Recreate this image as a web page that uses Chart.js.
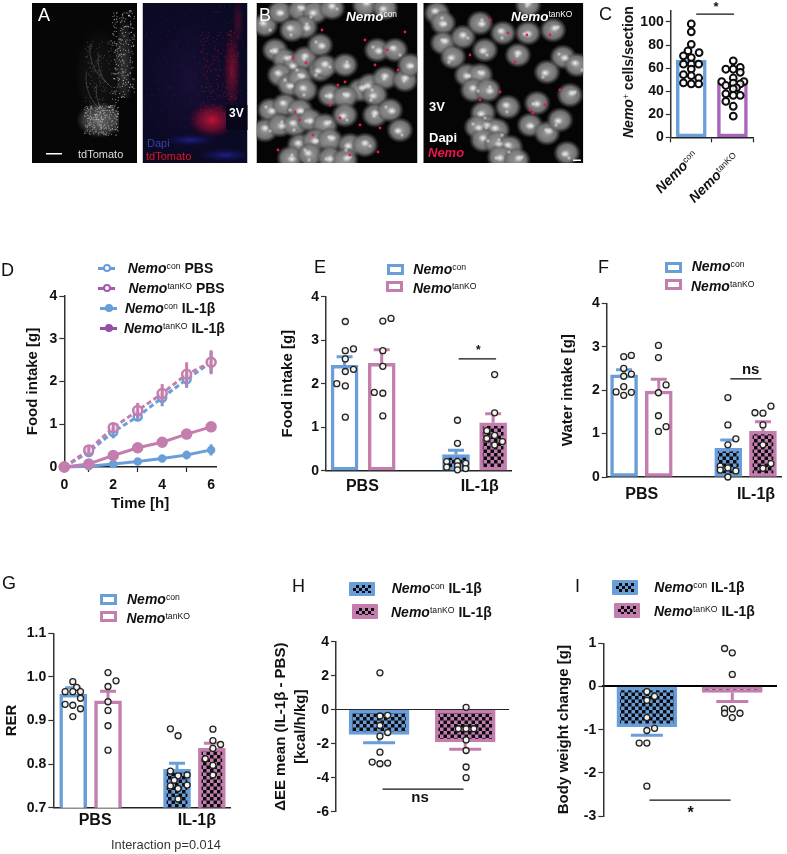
<!DOCTYPE html>
<html>
<head>
<meta charset="utf-8">
<script src="https://cdn.jsdelivr.net/npm/chart.js@4"></script>
<style>
    html, body { margin: 0; padding: 0; background: #fff; }
    #page { position: relative; width: 787px; height: 854px; overflow: hidden; font-family: "Liberation Sans", Arial, sans-serif; color: #111; }
    canvas { position: absolute; }
    .t { position: absolute; white-space: nowrap; line-height: 1; transform: translateY(-50%); }
    .t sup { font-size: 0.62em; font-weight: normal; font-style: normal; vertical-align: baseline; position: relative; top: -0.45em; }
    .t i { font-weight: bold; }
    .letter { font-size: 18px; }
    .leg { font-size: 14px; font-weight: bold; }
    .box { position: absolute; box-sizing: border-box; }
    .check { position: absolute; left: 6%; right: 6%; top: 4%; bottom: 4%; background: repeating-conic-gradient(#0c0c10 0 25%, transparent 0 50%) 0 0 / 6px 6px; }
</style>
</head>
<body>
<div id="page"></div>
<script>
// Panel C
const cBars = [67, 47];
const cConDots = [[0,98.3],[0,91.4],[0,80.6],[-0.08,74.9],[0.19,73.4],[-0.19,70.6],[0,69.1],[-0.19,63.4],[0,63.4],[0.18,63.4],[0,59.1],[-0.19,54.3],[0,53.4],[0.18,51.4],[-0.19,47.1],[0,46.3],[0.18,46.3]];
const cKoDots = [[1.02,66.3],[0.84,59],[1.19,60.6],[1.19,56.3],[1.02,59],[1.02,51.4],[0.74,48.3],[1.28,48.3],[0.84,44.9],[1.02,46.9],[1.19,46.3],[1.1,42.9],[0.84,37.7],[1.02,42],[1.02,36.3],[1.19,36.3],[0.84,31.1],[1.02,26.9],[1.02,18.3]];

// Panel D
const hours = [0, 1, 2, 3, 4, 5, 6];
const dConPbs = [0, 0.35, 0.82, 1.18, 1.62, 2.05, 2.45];
const dKoPbs = [0, 0.4, 0.92, 1.32, 1.72, 2.17, 2.45];
const dConIl = [0, 0.02, 0.07, 0.13, 0.2, 0.28, 0.4];
const dKoIl = [0, 0.07, 0.27, 0.45, 0.58, 0.77, 0.94];
const dConPbsErr = [0, 0.08, 0.15, 0.1, 0.2, 0.2, 0.25];
const dKoPbsErr = [0, 0.08, 0.12, 0.18, 0.22, 0.28, 0.28];
const dConIlErr = [0, 0.01, 0.03, 0.04, 0.04, 0.1, 0.13];
const dKoIlErr = [0, 0.03, 0.05, 0.06, 0.05, 0.08, 0.08];

// Panel E
const eBars = [2.42, 2.47, 0.37, 1.1];
const eErr = [0.2, 0.31, 0.1, 0.21];
const eDots = [[0.52,3.43],[0.52,2.76],[0.74,2.8],[0.52,2.57],[0.74,2.33],[0.52,2.28],[0.29,2],[0.52,1.95],[0.52,1.23],
    [1.53,3.44],[1.75,3.5],[1.53,2.76],[1.53,2.4],[1.3,1.8],[1.53,1.78],[1.53,1.26],
    [3.54,1.16],[3.54,0.63],[3.25,0.21],[3.54,0.21],[3.76,0.17],[3.25,0.08],[3.54,0.11],[3.76,0.05],[3.54,0.02],
    [4.54,2.21],[4.54,1.33],[4.33,0.92],[4.54,0.81],[4.33,0.74],[4.75,0.67],[4.54,0.59]];
const eSig = [[3.57,2.57],[4.58,2.57]];

// Panel F
const fBars = [2.35, 1.98, 0.66, 1.06];
const fErr = [0.12, 0.27, 0.19, 0.21];
const fDots = [[0.49,2.77],[0.71,2.8],[0.49,2.5],[0.49,2.32],[0.71,2.37],[0.49,2.08],[0.27,1.96],[0.49,1.88],[0.71,1.95],
    [1.49,3.03],[1.49,2.75],[1.71,2.12],[1.49,1.94],[1.49,1.41],[1.71,1.16],[1.49,1.05],
    [3.49,1.83],[3.49,1.2],[3.72,0.88],[3.49,0.74],[3.27,0.25],[3.27,0.16],[3.49,0.21],[3.72,0.14],[3.49,0],
    [4.27,1.48],[4.5,1.47],[4.73,1.63],[4.5,1.2],[4.5,0.74],[4.73,0.31],[4.5,0.2]];
const fSig = [[3.56,2.26],[4.46,2.26]];

// Panel G
const gBars = [0.96, 0.945, 0.788, 0.836];
const gErr = [0.015, 0.022, 0.014, 0.012];
const gDots = [[0.49,0.989],[0.6,0.976],[0.27,0.966],[0.49,0.966],[0.71,0.966],[0.71,0.951],[0.27,0.937],[0.49,0.935],[0.71,0.927],[0.49,0.909],
    [1.5,1.01],[1.73,0.991],[1.5,0.978],[1.5,0.943],[1.5,0.923],[1.5,0.888],[1.5,0.832],
    [3.29,0.881],[3.51,0.865],[3.29,0.784],[3.51,0.773],[3.77,0.775],[3.4,0.763],[3.29,0.75],[3.77,0.752],[3.51,0.744],[3.51,0.72],
    [4.51,0.88],[4.51,0.854],[4.73,0.845],[4.51,0.836],[4.29,0.812],[4.51,0.797],[4.51,0.775]];

// Panel H
const hBars = [-1.45, -1.9];
const hErr = [0.5, 0.43];
const hDots = [[1.01,2.17],[1.01,-0.37],[1.1,-0.33],[1.01,-0.93],[1.1,-1.34],[1.01,-1.56],[1.01,-2.5],[0.92,-3.08],[1.01,-3.18],[1.1,-3.14],
    [2.01,0.14],[1.92,-1.12],[2.01,-1.12],[2.1,-1.12],[2.01,-1.78],[2.01,-2.4],[2.01,-3.37],[2.01,-4]];
const hSig = [[1.04,-4.67],[1.98,-4.67]];

// Panel I
const iBars = [-0.93, -0.14];
const iErr = [0.2, 0.21];
const iDots = [[1,-0.12],[1.09,-0.23],[1,-0.32],[1,-0.72],[1.09,-0.97],[1,-1.02],[0.91,-1.31],[1,-1.31],[1,-2.31],
    [1.91,0.88],[2,0.78],[2,0.28],[1.91,-0.52],[2,-0.52],[1.91,-0.62],[2.09,-0.62],[2,-0.72]];
const iSig = [[1.03,-2.63],[1.98,-2.63]];

// Micrograph cell positions (only a rough sketch of the photos)
const cellsB1 = [[265,25],[280,12],[300,10],[315,12],[332,8],[305,27],[292,30],[275,50],[285,60],[295,65],[305,58],[320,45],[280,75],[290,85],[300,78],[320,70],[325,66],[345,65],[305,90],[330,95],[360,90],[370,85],[385,78],[270,110],[285,105],[300,110],[345,97],[375,95],[265,130],[280,125],[295,125],[310,120],[325,125],[345,115],[375,115],[390,110],[300,145],[315,140],[330,140],[350,145],[365,145],[290,158],[310,155],[330,158],[345,160],[400,130],[405,80],[377,50],[395,50],[410,65],[365,5],[385,8]];
const cellsB2 = [[437,13],[443,23],[443,43],[453,57],[463,37],[480,23],[503,33],[528,33],[553,30],[485,50],[518,55],[563,57],[577,65],[467,75],[480,75],[547,72],[473,90],[488,90],[508,107],[537,103],[570,95],[483,113],[487,127],[477,127],[497,130],[530,125],[547,133],[560,120],[483,140],[497,143],[510,147],[500,157],[517,160],[567,153],[528,5]];
const specksB1 = [[293,58],[306,63],[322,30],[345,82],[338,85],[365,40],[398,70],[387,50],[405,32],[295,112],[340,118],[360,125],[380,128],[278,150],[350,155],[378,152],[300,120],[313,135],[330,105],[375,65]];
const specksB2 = [[490,20],[508,33],[527,35],[550,35],[515,62],[480,100],[530,110],[533,113],[545,105],[500,92],[560,90],[470,55]];

const BLUE = '#6a9ed8', PINK = '#c47eae', PURPLE = '#a865bb', INK = '#111';

function checker(color) {
    const tile = document.createElement('canvas');
    tile.width = tile.height = 7;
    const t = tile.getContext('2d');
    t.fillStyle = color;
    t.fillRect(0, 0, 7, 7);
    t.fillStyle = '#0c0c10';
    t.fillRect(0, 0, 3.5, 3.5);
    t.fillRect(3.5, 3.5, 3.5, 3.5);
    return t.createPattern(tile, 'repeat');
}

const page = document.getElementById('page');

function label(x, y, html, cls, style) {
    const el = document.createElement('div');
    el.className = 't ' + (cls || '');
    el.style.left = x + 'px';
    el.style.top = y + 'px';
    el.innerHTML = html;
    if (style) el.style.cssText += style;
    page.appendChild(el);
    return el;
}

function swatch(x, y, w, h, color, filled) {
    const el = document.createElement('div');
    el.className = 'box';
    el.style.cssText = `left:${x}px;top:${y}px;width:${w}px;height:${h}px;border:3px solid ${color};` + (filled ? `background:${color};border-radius:1px;` : '');
    if (filled) el.innerHTML = '<div class="check"></div>';
    page.appendChild(el);
}

function lineKey(x, y, w, color, open, dashed) {
    const el = document.createElement('div');
    el.className = 'box';
    el.style.cssText = `left:${x}px;top:${y - 1.5}px;width:${w}px;height:0;border-top:3px ${dashed ? 'dashed' : 'solid'} ${color};`;
    page.appendChild(el);
    const dot = document.createElement('div');
    dot.className = 'box';
    dot.style.cssText = `left:${x + w / 2 - 4}px;top:${y - 4}px;width:8px;height:8px;border-radius:50%;border:2px solid ${color};background:${open ? '#fff' : color};`;
    page.appendChild(dot);
}

// error whiskers, called for each dataset that carries an `errors` array
const errorBars = {
    id: 'errorBars',
    afterDatasetDraw(chart, args) {
        const ds = chart.data.datasets[args.index];
        if (!ds.errors) return;
        const yScale = chart.scales.y;
        const meta = chart.getDatasetMeta(args.index);
        const ctx = chart.ctx;
        ctx.save();
        ctx.strokeStyle = ds.errorColor || ds.borderColor;
        ctx.lineWidth = ds.errorWidth || 3;
        meta.data.forEach((el, i) => {
            const color = Array.isArray(ds.borderColor) ? ds.borderColor[i] : ctx.strokeStyle;
            ctx.strokeStyle = color;
            const v = meta._parsed[i].y, e = ds.errors[i];
            if (!e) return;
            const a = ds.bothWays ? v - e : v;
            const b = v < 0 ? v - e : v + e;
            const y1 = yScale.getPixelForValue(a), y2 = yScale.getPixelForValue(b);
            ctx.beginPath();
            ctx.moveTo(el.x, y1);
            ctx.lineTo(el.x, y2);
            if (ds.capWidth) {
                ctx.moveTo(el.x - ds.capWidth / 2, y2);
                ctx.lineTo(el.x + ds.capWidth / 2, y2);
            }
            ctx.stroke();
        });
        ctx.restore();
    }
};

// one chart per panel; plot is the plot area in page pixels
function panel(frame, plot, yW, xH, opts) {
    const c = document.createElement('canvas');
    c.width = frame.w;
    c.height = frame.h;
    c.style.left = frame.x + 'px';
    c.style.top = frame.y + 'px';
    page.appendChild(c);
    const xOpts = opts.x;
    const yOpts = opts.y;
    return new Chart(c, {
        type: 'bar',
        data: { datasets: opts.datasets },
        plugins: [errorBars],
        options: {
            responsive: false,
            animation: false,
            layout: { padding: {
                left: plot.l - frame.x - yW,
                right: frame.x + frame.w - plot.r,
                top: plot.t - frame.y,
                bottom: frame.y + frame.h - plot.b - xH
            } },
            plugins: { legend: { display: false }, tooltip: { enabled: false } },
            scales: {
                x: {
                    type: 'linear',
                    offset: false,
                    min: xOpts.min,
                    max: xOpts.max,
                    position: xOpts.zeroLine ? { y: 0 } : 'bottom',
                    afterFit: s => { s.height = xH; },
                    afterBuildTicks: s => { s.ticks = (xOpts.tickAt || []).map(v => ({ value: v })); },
                    border: { color: xOpts.lineColor || '#222', width: xOpts.lineWidth || 1.5 },
                    grid: { drawOnChartArea: false, drawTicks: !!xOpts.tickMarks, tickLength: 5, tickColor: '#222', tickWidth: 1.2 },
                    ticks: {
                        display: !!xOpts.labels,
                        autoSkip: false,
                        maxRotation: 0,
                        padding: xOpts.pad === undefined ? 2 : xOpts.pad,
                        color: '#111',
                        font: { family: 'Liberation Sans', weight: 'bold', size: xOpts.size || 16 },
                        callback: (v, i) => xOpts.labels ? xOpts.labels[i] : ''
                    },
                    title: xOpts.title ? { display: true, text: xOpts.title, color: '#111', padding: 0, font: { family: 'Liberation Sans', weight: 'bold', size: 15, lineHeight: 1.2 } } : { display: false }
                },
                y: {
                    min: yOpts.min,
                    max: yOpts.max,
                    afterFit: s => { s.width = yW; },
                    border: { color: '#333', width: 1.5 },
                    grid: { drawOnChartArea: false, tickLength: 5, tickColor: '#333', tickWidth: 1.2 },
                    ticks: {
                        stepSize: yOpts.step,
                        includeBounds: false,
                        padding: 2,
                        color: '#111',
                        font: { family: 'Liberation Sans', weight: 'bold', size: 14 },
                        callback: yOpts.fmt || (v => String(v))
                    },
                    title: yOpts.title ? { display: true, text: yOpts.title, color: '#111', padding: 0, font: { family: 'Liberation Sans', weight: 'bold', size: 15, lineHeight: yOpts.titleLine || 1.2 } } : { display: false }
                }
            }
        }
    });
}

function toPoints(pairs) {
    return pairs.map(p => ({ x: p[0], y: p[1] }));
}

function dotSet(pairs, dark) {
    return {
        type: 'scatter',
        data: toPoints(pairs),
        clip: false,
        pointRadius: dark ? 3.4 : 3,
        pointBorderWidth: dark ? 2 : 1.3,
        pointBorderColor: dark ? '#0c0c0c' : '#222',
        pointBackgroundColor: dark ? 'rgba(255,255,255,0.85)' : '#f3f3ec'
    };
}

function barSet(slots, values, errors, fills, edges, thickness, capWidth) {
    return {
        type: 'bar',
        data: values.map((v, i) => ({ x: slots[i], y: v })),
        errors: errors,
        capWidth: capWidth,
        errorWidth: 3,
        grouped: false,
        barThickness: thickness,
        backgroundColor: fills,
        borderColor: edges,
        borderWidth: 3.5,
        borderSkipped: false
    };
}

function sigSet(pairs, width) {
    return {
        type: 'line',
        data: toPoints(pairs),
        clip: false,
        borderColor: '#111',
        borderWidth: width || 1.3,
        pointRadius: 0
    };
}

function curve(values, errors, color, dashed, open, radius) {
    return {
        type: 'line',
        data: values.map((v, i) => ({ x: hours[i], y: v })),
        clip: false,
        errors: errors,
        bothWays: true,
        errorColor: color,
        errorWidth: 3,
        borderColor: color,
        borderWidth: 3,
        borderDash: dashed ? [5, 3] : [],
        pointRadius: radius,
        pointBorderWidth: 2.5,
        pointBorderColor: color,
        pointBackgroundColor: open ? 'rgba(255,255,255,0.7)' : color
    };
}

const bluePat = checker(BLUE), pinkPat = checker(PINK);
const slots = [0.5, 1.5, 3.5, 4.5];
const fills4 = ['#fff', '#fff', bluePat, pinkPat];
const edges4 = [BLUE, PINK, BLUE, PINK];

// C
panel({ x: 600, y: 0, w: 187, h: 210 }, { l: 670.7, t: 9, r: 753, b: 137.3 }, 45, 12, {
    x: { min: -0.5, max: 1.5, tickAt: [0, 1], tickMarks: true },
    y: { min: 0, max: 110, step: 20 },
    datasets: [dotSet(cConDots, true), dotSet(cKoDots, true),
        sigSet([[0.12, 106.8], [1.04, 106.8]]),
        barSet([0, 1], cBars, null, ['#fff', '#fff'], [BLUE, PURPLE], 30)]
});

// D
panel({ x: 0, y: 250, w: 260, h: 270 }, { l: 64.3, t: 296, r: 216, b: 467 }, 40, 46, {
    x: { min: 0, max: 6.2, tickAt: [0, 2, 4, 6], tickMarks: true, labels: ['0', '2', '4', '6'], size: 14, title: 'Time [h]', pad: 5 },
    y: { min: 0, max: 4, step: 1, title: 'Food intake [g]' },
    datasets: [curve(dKoIl, dKoIlErr, PINK, false, false, 4.5), curve(dKoPbs, dKoPbsErr, PINK, true, true, 4.5),
        curve(dConPbs, dConPbsErr, BLUE, true, true, 4), curve(dConIl, dConIlErr, BLUE, false, false, 3)]
});

// E
panel({ x: 270, y: 250, w: 260, h: 270 }, { l: 326, t: 296.7, r: 511.7, b: 470.7 }, 47, 30, {
    x: { min: 0, max: 5, tickAt: [0.98, 4.14], labels: ['PBS', 'IL-1β'], pad: 6 },
    y: { min: 0, max: 4, step: 1, title: 'Food intake [g]' },
    datasets: [dotSet(eDots), sigSet(eSig), barSet(slots, eBars, eErr, fills4, edges4, 27, 16)]
});

// F
panel({ x: 530, y: 250, w: 257, h: 270 }, { l: 606.7, t: 303.3, r: 786.7, b: 477 }, 48, 30, {
    x: { min: 0, max: 5.04, tickAt: [1.01, 4.3], labels: ['PBS', 'IL-1β'], pad: 8 },
    y: { min: 0, max: 4, step: 1, title: 'Water intake [g]' },
    datasets: [dotSet(fDots), sigSet(fSig), barSet(slots, fBars, fErr, fills4, edges4, 27, 16)]
});

// G
panel({ x: 0, y: 580, w: 260, h: 274 }, { l: 53.3, t: 633.3, r: 230, b: 807.7 }, 50, 30, {
    x: { min: -0.07, max: 5, tickAt: [1.13, 4.05], labels: ['PBS', 'IL-1β'], pad: 3 },
    y: { min: 0.7, max: 1.1, step: 0.1, title: 'RER', fmt: v => v.toFixed(1) },
    datasets: [dotSet(gDots), barSet([0.5, 1.5, 3.48, 4.48], gBars, gErr, fills4, edges4, 27, 16)]
});

// H
panel({ x: 265, y: 570, w: 260, h: 284 }, { l: 336, t: 641.7, r: 508.3, b: 810.7 }, 65, 1, {
    x: { min: 0.5, max: 2.5, zeroLine: true, lineColor: '#222', lineWidth: 1 },
    y: { min: -6, max: 4, step: 2, title: ['ΔEE mean (IL-1β - PBS)', '[kcal/h/kg]'], titleLine: 1.33 },
    datasets: [dotSet(hDots), sigSet(hSig), barSet([1, 2], hBars, hErr, [bluePat, pinkPat], [BLUE, PINK], 60, 32)]
});

// I
panel({ x: 530, y: 570, w: 257, h: 284 }, { l: 603.3, t: 643.3, r: 776.7, b: 815 }, 48, 1, {
    x: { min: 0.49, max: 2.52, zeroLine: true, lineColor: '#000', lineWidth: 2 },
    y: { min: -3, max: 1, step: 1, title: 'Body weight change [g]' },
    datasets: [dotSet(iDots), sigSet(iSig), barSet([1, 2], iBars, iErr, [bluePat, pinkPat], [BLUE, PINK], 60, 32)]
});

// micrographs, sketched behind the charts
function paintPhotos() {
    const c = document.createElement('canvas');
    c.width = 600;
    c.height = 170;
    c.style.left = '0px';
    c.style.top = '0px';
    page.prepend(c);
    const ctx = c.getContext('2d');

    function blob(x, y, rx, ry, stops) {
        ctx.save();
        ctx.translate(x, y);
        ctx.scale(rx, ry);
        const g = ctx.createRadialGradient(0, 0, 0, 0, 0, 1);
        stops.forEach(s => g.addColorStop(s[0], s[1]));
        ctx.fillStyle = g;
        ctx.beginPath();
        ctx.arc(0, 0, 1, 0, Math.PI * 2);
        ctx.fill();
        ctx.restore();
    }
    function frame(x, y, w, h, bg, paint) {
        ctx.save();
        ctx.beginPath();
        ctx.rect(x, y, w, h);
        ctx.clip();
        ctx.fillStyle = bg;
        ctx.fillRect(x, y, w, h);
        paint();
        ctx.restore();
    }
    // fine grain for the photo texture, a fixed hash so it stays the same on each run
    function grain(count, x, y, w, h, color, size) {
        const hash = n => { const s = Math.sin(n) * 43758.5453; return s - Math.floor(s); };
        ctx.fillStyle = color;
        for (let i = 1; i <= count; i++) {
            ctx.fillRect(x + hash(i * 12.9898) * w, y + hash(i * 78.233) * h, size, size);
        }
    }
    const grey = a => [[0, `rgba(200,200,200,${a})`], [0.7, `rgba(170,170,170,${a * 0.6})`], [1, 'rgba(120,120,120,0)']];
    const red = a => [[0, `rgba(225,20,55,${a})`], [0.6, `rgba(170,15,50,${a * 0.55})`], [1, 'rgba(120,0,40,0)']];

    frame(32, 3, 105, 160, '#060606', () => {
        blob(100, 120, 24, 18, grey(0.5));
        blob(124, 62, 9, 50, grey(0.22));
        blob(100, 75, 26, 50, grey(0.07));
        grain(260, 84, 105, 34, 30, 'rgba(220,220,220,0.55)', 1);
        grain(240, 112, 10, 22, 95, 'rgba(215,215,215,0.65)', 1);
        grain(140, 85, 40, 32, 65, 'rgba(190,190,190,0.3)', 1);
        ctx.strokeStyle = 'rgba(170,170,170,0.28)';
        ctx.lineWidth = 1;
        [[110, 60, 40], [112, 70, 34], [108, 88, 42], [112, 100, 36]].forEach(a => {
            ctx.beginPath();
            ctx.arc(a[0] + 20, a[1] - 10, a[2], Math.PI * 0.7, Math.PI * 1.05);
            ctx.stroke();
        });
        ctx.fillStyle = '#050505';
        ctx.fillRect(119, 98, 18, 32);
    });
    frame(142.5, 3, 105, 160, '#0b0a24', () => {
        blob(190, 80, 55, 80, [[0, 'rgba(40,20,70,0.5)'], [1, 'rgba(20,10,50,0)']]);
        blob(212, 120, 24, 18, red(0.85));
        blob(232, 70, 9, 42, red(0.5));
        blob(238, 22, 6, 26, red(0.25));
        grain(160, 200, 30, 38, 85, 'rgba(220,20,60,0.5)', 1);
        grain(300, 143, 5, 100, 125, 'rgba(70,50,130,0.35)', 1);
        blob(190, 140, 26, 6, [[0, 'rgba(40,40,170,0.7)'], [1, 'rgba(20,20,120,0)']]);
        blob(225, 155, 26, 7, [[0, 'rgba(40,40,170,0.7)'], [1, 'rgba(20,20,120,0)']]);
        ctx.fillStyle = '#07061a';
        ctx.fillRect(226, 105, 22, 25);
    });
    function cells(list, specks) {
        list.forEach(p => blob(p[0], p[1], 14, 13, [[0, 'rgba(165,165,165,0.95)'], [0.65, 'rgba(125,125,125,0.9)'], [0.85, 'rgba(85,85,85,0.5)'], [1, 'rgba(60,60,60,0)']]));
        list.forEach((p, i) => {
            blob(p[0] - 2 + (i % 3) * 2, p[1] - 2 + (i % 2) * 3, 5, 4, [[0, 'rgba(255,255,255,0.9)'], [1, 'rgba(235,235,235,0)']]);
            blob(p[0] + 5 - (i % 4) * 3, p[1] + 5 - (i % 3) * 4, 2.5, 2.5, [[0, 'rgba(240,240,240,0.7)'], [1, 'rgba(235,235,235,0)']]);
        });
        ctx.fillStyle = '#e0203c';
        specks.forEach(p => {
            ctx.beginPath();
            ctx.arc(p[0], p[1], 1.4, 0, Math.PI * 2);
            ctx.fill();
        });
    }
    frame(256.5, 3, 161, 160, '#050505', () => cells(cellsB1, specksB1));
    frame(423.3, 3, 160, 160, '#050505', () => cells(cellsB2, specksB2));
    ctx.fillStyle = '#fff';
    ctx.fillRect(46, 153, 16, 1.5);
    ctx.fillRect(573, 159.5, 8, 1.5);
}
paintPhotos();

// panel letters
label(38, 15, 'A', 'letter', 'color:#fff;');
label(259, 15, 'B', 'letter', 'color:#fff;');
label(599, 14, 'C', 'letter');
label(1, 270, 'D', 'letter');
label(314, 267, 'E', 'letter');
label(598, 267, 'F', 'letter');
label(2, 583, 'G', 'letter');
label(292, 586, 'H', 'letter');
label(575, 586, 'I', 'letter');

// photo captions
label(78, 154, 'tdTomato', '', 'font-size:11px;color:#ddd;');
label(147, 143, 'Dapi', '', 'font-size:11px;color:#3c3fa8;');
label(146, 156, 'tdTomato', '', 'font-size:11px;color:#e01525;');
label(229, 113, '3V', '', 'font-size:12px;font-weight:bold;color:#fff;');
label(346, 17, '<i>Nemo</i><sup>con</sup>', '', 'font-size:13.5px;color:#fff;');
label(511, 17, '<i>Nemo</i><sup>tanKO</sup>', '', 'font-size:13.5px;color:#fff;');
label(429, 106, '3V', '', 'font-size:13px;font-weight:bold;color:#fff;');
label(429, 137, 'Dapi', '', 'font-size:13px;font-weight:bold;color:#fff;');
label(428, 152, '<i>Nemo</i>', '', 'font-size:13px;color:#f0134d;');

// panel C labels
label(628, 72, '<i>Nemo</i><sup>+</sup> cells/section', '', 'font-size:14px;font-weight:bold;transform:translate(-50%,-50%) rotate(-90deg);');
label(690, 148, '<i>Nemo</i><sup>con</sup>', '', 'font-size:14px;transform-origin:100% 0;transform:translateX(-100%) rotate(-45deg);');
label(731, 150, '<i>Nemo</i><sup>tanKO</sup>', '', 'font-size:14px;transform-origin:100% 0;transform:translateX(-100%) rotate(-45deg);');
label(716, 6, '*', '', 'font-size:13px;font-weight:bold;transform:translate(-50%,-50%);');

// legends
lineKey(98, 268, 17, BLUE, true, true);
lineKey(98, 288, 17, '#a55aae', true, true);
lineKey(100, 308, 17, BLUE, false, false);
lineKey(100, 328, 17, '#954fa6', false, false);
label(127.7, 268, '<i>Nemo</i><sup>con</sup> PBS', 'leg');
label(128.5, 288, '<i>Nemo</i><sup>tanKO</sup> PBS', 'leg');
label(125, 308, '<i>Nemo</i><sup>con</sup> IL-1β', 'leg');
label(124, 328, '<i>Nemo</i><sup>tanKO</sup> IL-1β', 'leg');

swatch(386.7, 264, 17.3, 11, BLUE);
swatch(386, 280.7, 17.3, 11, PINK);
label(413.3, 269, '<i>Nemo</i><sup>con</sup>', 'leg');
label(413, 288, '<i>Nemo</i><sup>tanKO</sup>', 'leg');

swatch(664.7, 261.7, 17.3, 11, BLUE);
swatch(664.7, 279, 17.3, 11, PINK);
label(691.7, 266, '<i>Nemo</i><sup>con</sup>', 'leg');
label(691, 286, '<i>Nemo</i><sup>tanKO</sup>', 'leg');

swatch(100, 594.3, 17.3, 11, BLUE);
swatch(100, 611, 17.3, 11, PINK);
label(127, 599, '<i>Nemo</i><sup>con</sup>', 'leg');
label(126.5, 618, '<i>Nemo</i><sup>tanKO</sup>', 'leg');

swatch(349.3, 581.7, 26, 14.5, BLUE, true);
swatch(351.7, 604.3, 26, 14.5, PINK, true);
label(391.7, 588, '<i>Nemo</i><sup>con</sup> IL-1β', 'leg');
label(391, 611.7, '<i>Nemo</i><sup>tanKO</sup> IL-1β', 'leg');

swatch(612, 580, 26, 15, BLUE, true);
swatch(614.3, 602.7, 26, 15, PINK, true);
label(654.3, 586.7, '<i>Nemo</i><sup>con</sup> IL-1β', 'leg');
label(654, 610.7, '<i>Nemo</i><sup>tanKO</sup> IL-1β', 'leg');

// significance marks and notes
label(478.3, 350, '*', '', 'font-size:12px;font-weight:bold;transform:translate(-50%,-50%);');
label(750.7, 368, 'ns', '', 'font-size:15px;font-weight:bold;transform:translate(-50%,-50%);');
label(420, 796, 'ns', '', 'font-size:15px;font-weight:bold;transform:translate(-50%,-50%);');
label(690.7, 813, '*', '', 'font-size:16px;font-weight:bold;transform:translate(-50%,-50%);');
label(111, 845, 'Interaction p=0.014', '', 'font-size:12.8px;color:#333;');
</script>
</body>
</html>
